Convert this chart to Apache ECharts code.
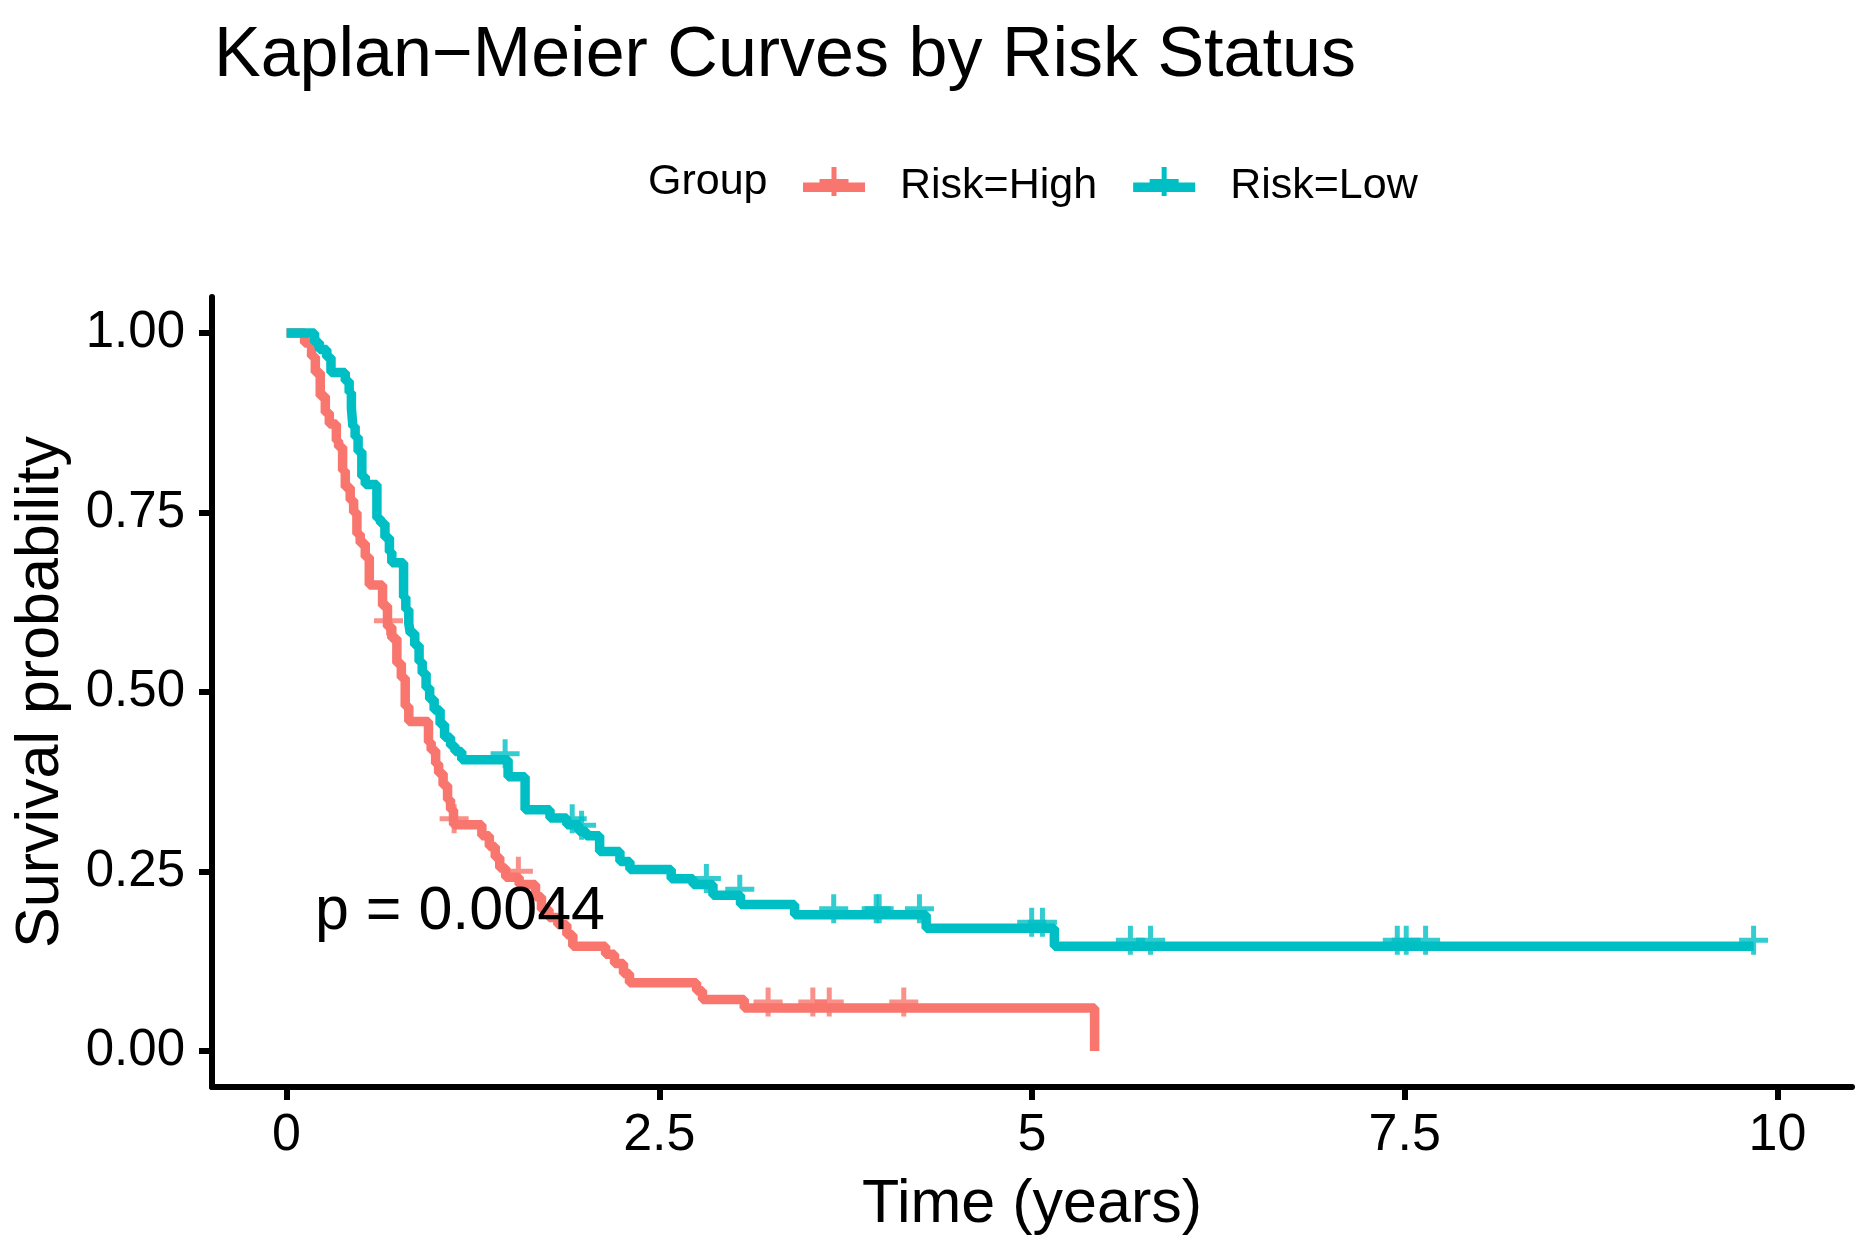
<!DOCTYPE html>
<html>
<head>
<meta charset="utf-8">
<script src="https://cdn.jsdelivr.net/npm/echarts@6/dist/echarts.min.js"></script>
<style>
html,body{margin:0;padding:0;background:#ffffff;}
#chart{width:1862px;height:1249px;}
</style>
</head>
<body>
<div id="chart"></div>
<script>
// ---------------- data ----------------
const highTimes = [0, 0.121, 0.168, 0.193, 0.226, 0.26, 0.287, 0.334, 0.349, 0.376, 0.394, 0.427, 0.45, 0.472, 0.494, 0.528, 0.555, 0.644, 0.677, 0.706, 0.74, 0.77, 0.796, 0.82, 0.952, 0.97, 1.0, 1.02, 1.05, 1.08, 1.10, 1.12, 1.31, 1.36, 1.40, 1.43, 1.47, 1.56, 1.67, 1.71, 1.76, 1.82, 1.88, 1.92, 2.14, 2.20, 2.26, 2.30, 2.75, 2.79, 3.07, 5.42];
const highSurv  = [1.0, 0.986, 0.967, 0.945, 0.912, 0.889, 0.873, 0.85, 0.841, 0.808, 0.785, 0.767, 0.75, 0.72, 0.707, 0.688, 0.649, 0.62, 0.591, 0.575, 0.54, 0.52, 0.48, 0.459, 0.43, 0.419, 0.40, 0.387, 0.37, 0.35, 0.336, 0.315, 0.30, 0.285, 0.27, 0.255, 0.242, 0.232, 0.215, 0.197, 0.186, 0.176, 0.162, 0.146, 0.135, 0.122, 0.108, 0.095, 0.084, 0.072, 0.06, 0.0];
const lowTimes  = [0, 0.188, 0.22, 0.27, 0.298, 0.394, 0.42, 0.435, 0.445, 0.46, 0.48, 0.505, 0.528, 0.606, 0.63, 0.66, 0.69, 0.706, 0.785, 0.80, 0.82, 0.83, 0.86, 0.889, 0.91, 0.936, 0.96, 0.99, 1.03, 1.06, 1.10, 1.13, 1.175, 1.486, 1.60, 1.767, 1.88, 1.96, 2.01, 2.10, 2.236, 2.303, 2.58, 2.727, 2.86, 3.045, 3.408, 4.29, 5.15, 9.84];
const lowSurv   = [1.0, 0.987, 0.977, 0.966, 0.945, 0.933, 0.917, 0.895, 0.87, 0.855, 0.835, 0.80, 0.789, 0.742, 0.735, 0.715, 0.695, 0.68, 0.632, 0.615, 0.595, 0.582, 0.565, 0.542, 0.526, 0.506, 0.49, 0.475, 0.455, 0.437, 0.425, 0.417, 0.4056, 0.382, 0.336, 0.3245, 0.315, 0.306, 0.300, 0.278, 0.264, 0.2528, 0.24, 0.232, 0.217, 0.204, 0.19, 0.171, 0.146, 0.146];
const highCensorTimes = [0.684, 1.124, 1.555, 3.23, 3.53, 3.64, 4.14];
const lowCensorTimes  = [1.466, 1.916, 1.979, 2.816, 3.04, 3.67, 3.955, 3.975, 4.245, 4.998, 5.07, 5.66, 5.795, 7.45, 7.51, 7.64, 9.84];
const xTicks = [0, 2.5, 5, 7.5, 10];
const yTicks = [0, 0.25, 0.5, 0.75, 1.0];
const groupNames = ['Risk=High', 'Risk=Low'];
const titleText = 'Kaplan\u2212Meier Curves by Risk Status';
const pValueText = 'p = 0.0044';

// ---------------- helpers ----------------
const FONT = '"Liberation Sans", Arial, Helvetica, sans-serif';
const RED = '#F8766D';
const TEAL = '#00BFC4';
function survAt(times, surv, t) {
  let s = surv[0];
  for (let i = 0; i < times.length; i++) {
    if (times[i] <= t) s = surv[i]; else break;
  }
  return s;
}
const highLine = highTimes.map((t, i) => [t, highSurv[i]]);
const lowLine = lowTimes.map((t, i) => [t, lowSurv[i]]);
const highCens = highCensorTimes.map(t => [t, survAt(highTimes, highSurv, t)]);
const lowCens = lowCensorTimes.map(t => [t, survAt(lowTimes, lowSurv, t)]);

const PLUS = 'path://M12,0L17,0L17,12L29,12L29,17L17,17L17,29L12,29L12,17L0,17L0,12L12,12Z';
// key: "+" above a thick line; a tiny sliver at the bottom sets the icon box to 62x38
const KEY = 'path://M28.5,0L33.5,0L33.5,29L28.5,29Z M16.5,12L45.5,12L45.5,17L16.5,17Z M0,15.5L62,15.5L62,25L0,25Z M0,37.95L0.05,37.95L0.05,38L0,38Z';

const chart = echarts.init(document.getElementById('chart'), null, {renderer: 'canvas'});
const axisTextStyle = {fontFamily: FONT, color: '#000', fontWeight: 'normal'};

const option = {
  animation: false,
  backgroundColor: '#ffffff',
  title: {
    text: titleText,
    left: 209,
    top: 17,
    textStyle: {fontFamily: FONT, fontSize: 70, fontWeight: 'normal', color: '#000'}
  },
  legend: {
    data: groupNames,
    orient: 'horizontal',
    left: 798,
    top: 159.5,
    icon: KEY,
    itemWidth: 62,
    itemHeight: 38,
    itemGap: 36,
    selectedMode: false,
    textStyle: {fontFamily: FONT, fontSize: 43, lineHeight: 38, color: '#000', padding: [0, 0, 0, 30]}
  },
  grid: {left: 212, right: 10, top: 297, bottom: 162},
  xAxis: {
    type: 'value',
    min: -0.5,
    max: 10.5,
    name: 'Time (years)',
    nameLocation: 'middle',
    nameGap: 88,
    nameTextStyle: Object.assign({fontSize: 61}, axisTextStyle),
    axisLine: {onZero: false, lineStyle: {color: '#000', width: 6}},
    axisTick: {show: true, customValues: xTicks, length: 13, lineStyle: {color: '#000', width: 6}},
    axisLabel: Object.assign({customValues: xTicks, margin: 23, fontSize: 52}, axisTextStyle),
    splitLine: {show: false}
  },
  yAxis: {
    type: 'value',
    min: -0.05,
    max: 1.05,
    name: 'Survival probability',
    nameLocation: 'middle',
    nameRotate: 90,
    nameGap: 140,
    nameTextStyle: Object.assign({fontSize: 61}, axisTextStyle),
    axisLine: {show: true, onZero: false, lineStyle: {color: '#000', width: 6}},
    axisTick: {show: true, customValues: yTicks, length: 13, lineStyle: {color: '#000', width: 6}},
    axisLabel: Object.assign({customValues: yTicks, margin: 27, fontSize: 51, formatter: v => v.toFixed(2)}, axisTextStyle),
    splitLine: {show: false}
  },
  graphic: [
    {type: 'text', x: 648, y: 182.5, z: 100,
     style: {text: 'Group', fontFamily: FONT, fontSize: 43, fill: '#000', align: 'left', verticalAlign: 'middle'}},
    {type: 'text', x: 315, y: 912, z: 100,
     style: {text: pValueText, fontFamily: FONT, fontSize: 61, fill: '#000', align: 'left', verticalAlign: 'middle'}}
  ],
  series: [
    {name: groupNames[0], type: 'line', step: 'end', data: highLine, showSymbol: false, symbol: 'none',
     color: RED, lineStyle: {color: RED, width: 9.5}, itemStyle: {color: RED}, z: 2},
    {name: groupNames[1], type: 'line', step: 'end', data: lowLine, showSymbol: false, symbol: 'none',
     color: TEAL, lineStyle: {color: TEAL, width: 9.5}, itemStyle: {color: TEAL}, z: 3},
    {name: 'High censor', type: 'scatter', data: highCens, symbol: PLUS, symbolSize: 29, symbolOffset: [0, -6],
     itemStyle: {color: RED}, z: 4},
    {name: 'Low censor', type: 'scatter', data: lowCens, symbol: PLUS, symbolSize: 29, symbolOffset: [0, -6],
     itemStyle: {color: TEAL}, z: 5}
  ]
};
chart.setOption(option);
</script>
</body>
</html>
